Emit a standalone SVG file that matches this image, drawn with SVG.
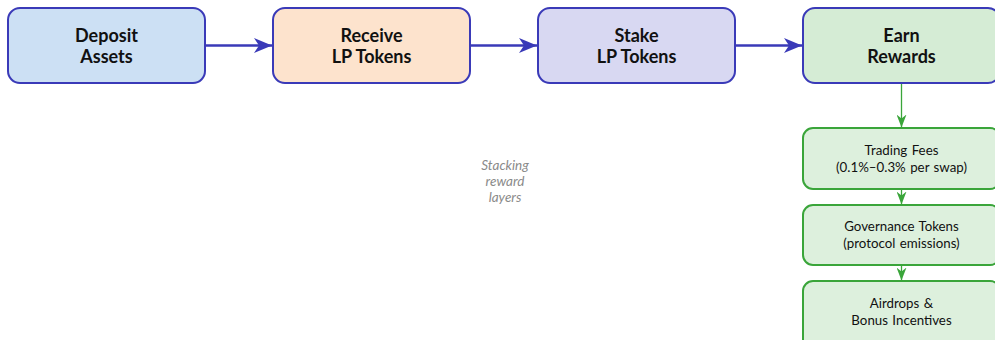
<svg xmlns="http://www.w3.org/2000/svg" width="995" height="340" viewBox="0 0 995 340">
<defs>
<marker id="ab" viewBox="0 0 18 16" refX="18" refY="8" markerWidth="18" markerHeight="16" markerUnits="userSpaceOnUse" orient="auto"><path d="M0,0.5 L18,8 L0,15.5 L5,8 Z" fill="#3a3ab8"/></marker>
<marker id="ag" viewBox="0 0 13 10" refX="13" refY="5" markerWidth="13" markerHeight="10" markerUnits="userSpaceOnUse" orient="auto"><path d="M0,0 L13,5 L0,10 L4,5 Z" fill="#3aa53a"/></marker>
</defs>
<style>
.main{stroke:#3a3ab8;stroke-width:2}
.sub{fill:#ddf0dd;stroke:#3aa53a;stroke-width:2}
.t{font-family:Lato,"Open Sans","DejaVu Sans",sans-serif;font-weight:bold;font-size:18px;fill:#111;text-anchor:middle}
.s{font-family:Lato,"Open Sans","DejaVu Sans",sans-serif;font-size:13.3px;fill:#111;text-anchor:middle;word-spacing:1px}
.n{font-family:Lato,"Open Sans","DejaVu Sans",sans-serif;font-style:italic;font-size:13.5px;fill:#8a8a8a;text-anchor:middle}
.cb{stroke:#3a3ab8;stroke-width:2.4;fill:none}
.cg{stroke:#3aa53a;stroke-width:1.3;fill:none}
</style>
<rect width="995" height="340" fill="#fff"/>
<g id="deposit"><rect class="main" x="8" y="8" width="197" height="75" rx="12" fill="#cce0f4"/><text class="t" x="106.5" y="42">Deposit</text><text class="t" x="106.5" y="63">Assets</text></g>
<g id="receive"><rect class="main" x="273" y="8" width="197" height="75" rx="12" fill="#fde3cd"/><text class="t" x="371.5" y="42">Receive</text><text class="t" x="371.5" y="63">LP Tokens</text></g>
<g id="stake"><rect class="main" x="538" y="8" width="197" height="75" rx="12" fill="#d8d8f2"/><text class="t" x="636.5" y="42">Stake</text><text class="t" x="636.5" y="63">LP Tokens</text></g>
<g id="earn"><rect class="main" x="803" y="8" width="197" height="75" rx="12" fill="#d5ecd5"/><text class="t" x="901.5" y="42">Earn</text><text class="t" x="901.5" y="63">Rewards</text></g>
<g id="fees"><rect class="sub" x="803" y="128" width="197" height="61" rx="10"/><text class="s" x="901.5" y="155">Trading Fees</text><text class="s" x="901.5" y="172">(0.1%–0.3% per swap)</text></g>
<g id="gov"><rect class="sub" x="803" y="205" width="197" height="60" rx="10"/><text class="s" x="901.5" y="231">Governance Tokens</text><text class="s" x="901.5" y="248">(protocol emissions)</text></g>
<g id="air"><rect class="sub" x="803" y="281" width="197" height="70" rx="10"/><text class="s" x="901.5" y="308">Airdrops &amp;</text><text class="s" x="901.5" y="325">Bonus Incentives</text></g>
<g id="note"><text class="n" x="505" y="170">Stacking</text><text class="n" x="505" y="186">reward</text><text class="n" x="505" y="202">layers</text></g>
<g id="connectors">
<line class="cb" x1="206" y1="45.5" x2="272" y2="45.5" marker-end="url(#ab)"/>
<line class="cb" x1="471" y1="45.5" x2="537" y2="45.5" marker-end="url(#ab)"/>
<line class="cb" x1="736" y1="45.5" x2="802" y2="45.5" marker-end="url(#ab)"/>
<line class="cg" x1="901.5" y1="84" x2="901.5" y2="127.5" marker-end="url(#ag)"/>
<line class="cg" x1="901.5" y1="190" x2="901.5" y2="204.5" marker-end="url(#ag)"/>
<line class="cg" x1="901.5" y1="266" x2="901.5" y2="280.5" marker-end="url(#ag)"/>
</g>
</svg>
